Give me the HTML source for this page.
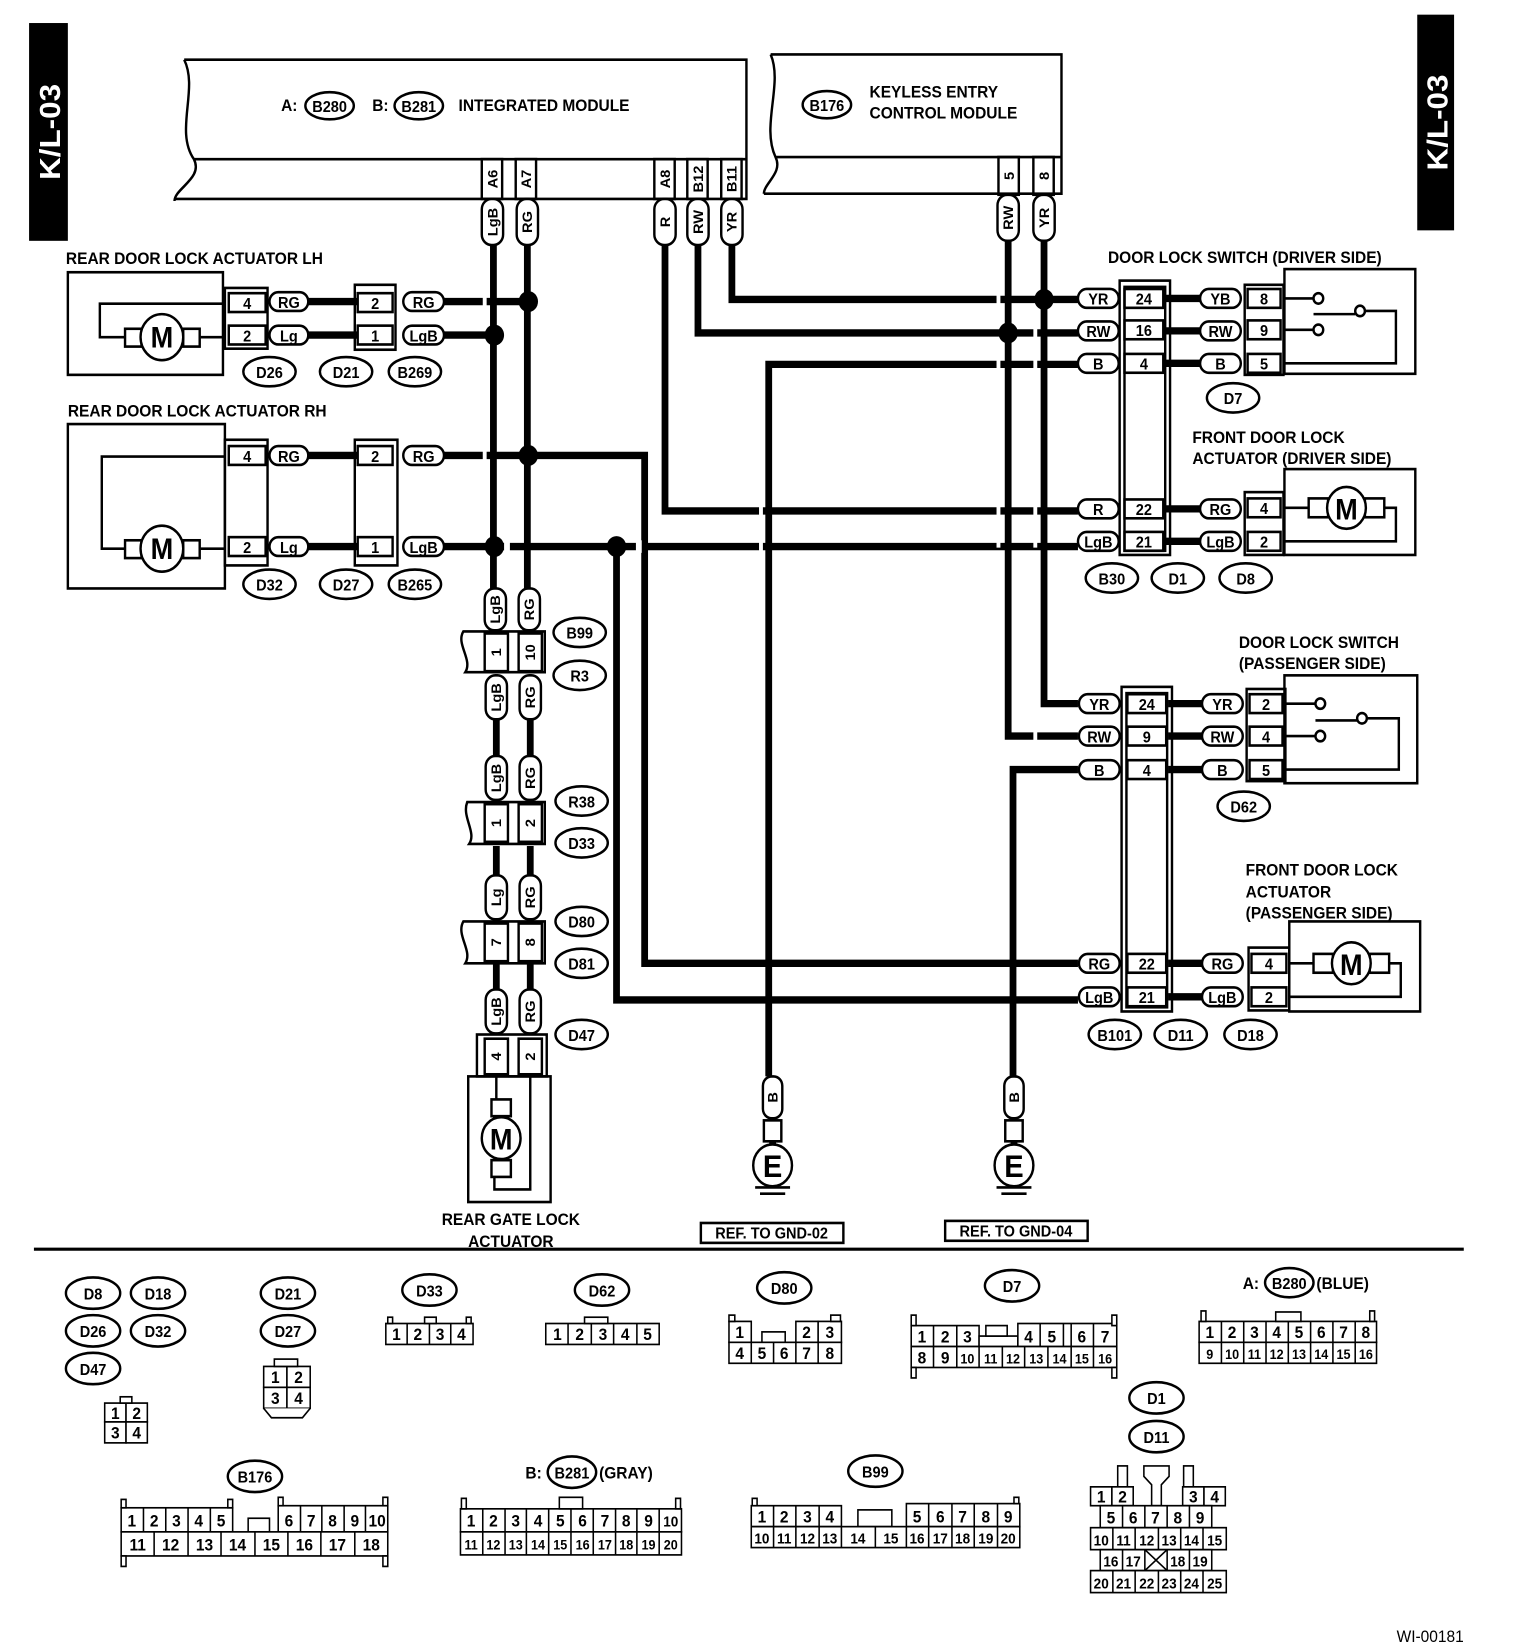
<!DOCTYPE html>
<html><head><meta charset="utf-8"><style>
html,body{margin:0;padding:0;background:#fff}
svg{display:block}
text{font-family:"Liberation Sans",sans-serif;font-weight:bold;fill:#000}
.w{fill:none;stroke:#000;stroke-width:7}
.t{fill:none;stroke:#000;stroke-width:2.5}
.p{fill:#fff;stroke:#000;stroke-width:2.5}
.c{fill:#fff;stroke:#000;stroke-width:1.6}
.n{font-weight:normal;font-size:16px}
.l{font-size:15px}
</style></head><body>
<svg width="1520" height="1646" viewBox="0 0 1568 1572" preserveAspectRatio="none" xmlns="http://www.w3.org/2000/svg">
<!-- tabs -->
<rect x="30" y="22" width="40" height="208" fill="#000"/>
<text transform="translate(62,126) rotate(-90)" text-anchor="middle" font-size="30" style="fill:#fff">K/L-03</text>
<rect x="1462" y="14" width="38" height="206" fill="#000"/>
<text transform="translate(1493,117) rotate(-90)" text-anchor="middle" font-size="30" style="fill:#fff">K/L-03</text>

<!-- Integrated module -->
<path class="t" d="M190,57 H770 V190 H180 M190,57 C205,85 180,125 200,152 H770 M200,152 C210,170 180,180 180,192"/>
<text x="290" y="106" font-size="16">A:</text>
<ellipse class="p" cx="340" cy="101" rx="25" ry="13"/><text x="340" y="107" text-anchor="middle" font-size="15">B280</text>
<text x="384" y="106" font-size="16">B:</text>
<ellipse class="p" cx="432" cy="101" rx="25" ry="13"/><text x="432" y="107" text-anchor="middle" font-size="15">B281</text>
<text x="473" y="106" font-size="16">INTEGRATED MODULE</text>
<g class="t">
<rect x="497" y="152" width="21" height="38"/><rect x="532" y="152" width="21" height="38"/>
<rect x="675" y="152" width="21" height="38"/><rect x="709" y="152" width="21" height="38"/><rect x="744" y="152" width="21" height="38"/>
</g>
<text transform="translate(513,171) rotate(-90)" text-anchor="middle" font-size="14">A6</text>
<text transform="translate(548,171) rotate(-90)" text-anchor="middle" font-size="14">A7</text>
<text transform="translate(691,171) rotate(-90)" text-anchor="middle" font-size="14">A8</text>
<text transform="translate(725,171) rotate(-90)" text-anchor="middle" font-size="14">B12</text>
<text transform="translate(760,171) rotate(-90)" text-anchor="middle" font-size="14">B11</text>

<!-- Keyless -->
<path class="t" d="M795,52 H1095 V185 H788 M795,52 C808,80 785,120 800,150 H1095 M800,150 C808,165 788,175 788,185"/>
<ellipse class="p" cx="853" cy="100" rx="25" ry="13"/><text x="853" y="106" text-anchor="middle" font-size="15">B176</text>
<text x="897" y="93" font-size="16">KEYLESS ENTRY</text>
<text x="897" y="113" font-size="16">CONTROL MODULE</text>
<g class="t"><rect x="1030" y="150" width="21" height="36"/><rect x="1066" y="150" width="21" height="36"/></g>
<text transform="translate(1046,168) rotate(-90)" text-anchor="middle" font-size="14">5</text>
<text transform="translate(1082,168) rotate(-90)" text-anchor="middle" font-size="14">8</text>

<!-- wires -->
<g class="w">
<path d="M509,234 V570"/><path d="M544,234 V570"/>
<path d="M686,234 V488 H1112"/>
<path d="M720,234 V318 H1112"/>
<path d="M755,234 V286 H1112"/>
<path d="M1040,230 V703 H1112"/>
<path d="M1077,230 V672 H1112"/>
<path d="M793,1028 V348 H1112"/>
<path d="M1045,1028 V735 H1112"/>
<path d="M318,288 H368 M318,320 H368"/>
<path d="M458,288 H545 M458,320 H510"/>
<path d="M318,435 H368 M318,522 H368"/>
<path d="M458,435 H665 V920 H1112"/>
<path d="M458,522 H1112"/>
<path d="M636,522 V955 H1112"/>
<path d="M1200,285 H1240 M1200,316 H1240 M1200,347 H1240 M1200,486 H1240 M1200,517 H1240"/>
<path d="M1205,672 H1240 M1205,703 H1240 M1205,735 H1240 M1205,920 H1240 M1205,952 H1240"/>
<path d="M512,687 V722 M547,687 V722 M512,808 V836 M547,808 V836 M512,920 V945 M547,920 V945"/>
</g>
<g fill="#000">
<circle cx="545" cy="288" r="10"/><circle cx="510" cy="320" r="10"/>
<circle cx="545" cy="435" r="10"/><circle cx="510" cy="522" r="10"/><circle cx="636" cy="522" r="10"/>
<circle cx="1077" cy="286" r="10"/><circle cx="1040" cy="318" r="10"/>
</g>
<!-- crossing gaps -->
<g fill="#fff"><rect x="498" y="282" width="4" height="12"/><rect x="520" y="516" width="6" height="12"/><rect x="498" y="429" width="4" height="12"/><rect x="656" y="516" width="6" height="12"/><rect x="1028" y="280" width="4" height="12"/><rect x="1028" y="341" width="4" height="12"/><rect x="1066" y="341" width="4" height="12"/><rect x="1066" y="311" width="4" height="12"/><rect x="1028" y="480" width="4" height="12"/><rect x="1066" y="480" width="4" height="12"/><rect x="1028" y="511" width="4" height="12"/><rect x="1066" y="511" width="4" height="12"/><rect x="1066" y="697" width="4" height="12"/><rect x="783" y="482" width="4" height="12"/><rect x="783" y="515" width="4" height="12"/></g>

<!-- vertical pills top -->
<g class="p">
<rect x="497" y="190" width="22" height="44" rx="10"/><rect x="533" y="190" width="22" height="44" rx="10"/>
<rect x="675" y="190" width="22" height="44" rx="10"/><rect x="709" y="190" width="22" height="44" rx="10"/><rect x="744" y="190" width="22" height="44" rx="10"/>
<rect x="1029" y="186" width="22" height="44" rx="10"/><rect x="1066" y="186" width="22" height="44" rx="10"/>
</g>
<g font-size="14" text-anchor="middle">
<text transform="translate(513,212) rotate(-90)">LgB</text><text transform="translate(549,212) rotate(-90)">RG</text>
<text transform="translate(691,212) rotate(-90)">R</text><text transform="translate(725,212) rotate(-90)">RW</text><text transform="translate(760,212) rotate(-90)">YR</text>
<text transform="translate(1045,208) rotate(-90)">RW</text><text transform="translate(1082,208) rotate(-90)">YR</text>
</g>

<!-- Rear door LH -->
<text x="68" y="252" font-size="16">REAR DOOR LOCK ACTUATOR LH</text>
<rect class="t" x="70" y="260" width="160" height="98"/>
<path class="t" d="M232,290 H103 V322 H129 M207,322 H232"/>
<rect class="p" x="129" y="314" width="17" height="17"/><rect class="p" x="189" y="314" width="17" height="17"/>
<circle class="p" cx="167" cy="322" r="22"/><text x="167" y="332" text-anchor="middle" font-size="28">M</text>
<rect class="t" x="232" y="275" width="44" height="58"/>
<rect class="t" x="236" y="280" width="38" height="18"/><rect class="t" x="236" y="311" width="38" height="18"/>
<text x="255" y="295" text-anchor="middle" font-size="15">4</text><text x="255" y="326" text-anchor="middle" font-size="15">2</text>
<rect class="t" x="366" y="272" width="42" height="62"/>
<rect class="t" x="369" y="280" width="36" height="18"/><rect class="t" x="369" y="311" width="36" height="18"/>
<text x="387" y="295" text-anchor="middle" font-size="15">2</text><text x="387" y="326" text-anchor="middle" font-size="15">1</text>
<g class="p"><rect x="278" y="279" width="40" height="18" rx="9"/><rect x="278" y="311" width="40" height="18" rx="9"/><rect x="416" y="279" width="42" height="18" rx="9"/><rect x="416" y="311" width="42" height="18" rx="9"/></g>
<g font-size="15" text-anchor="middle"><text x="298" y="294">RG</text><text x="298" y="326">Lg</text><text x="437" y="294">RG</text><text x="437" y="326">LgB</text></g>
<g class="p"><ellipse cx="278" cy="355" rx="27" ry="14"/><ellipse cx="357" cy="355" rx="27" ry="14"/><ellipse cx="428" cy="355" rx="27" ry="14"/></g>
<g font-size="15" text-anchor="middle"><text x="278" y="361">D26</text><text x="357" y="361">D21</text><text x="428" y="361">B269</text></g>

<!-- Rear door RH -->
<text x="70" y="398" font-size="16">REAR DOOR LOCK ACTUATOR RH</text>
<rect class="t" x="70" y="405" width="162" height="157"/>
<path class="t" d="M232,436 H105 V524 H129 M207,524 H232"/>
<rect class="p" x="129" y="516" width="17" height="17"/><rect class="p" x="189" y="516" width="17" height="17"/>
<circle class="p" cx="167" cy="524" r="22"/><text x="167" y="534" text-anchor="middle" font-size="28">M</text>
<rect class="t" x="232" y="420" width="44" height="120"/>
<rect class="t" x="236" y="426" width="38" height="18"/><rect class="t" x="236" y="513" width="38" height="18"/>
<text x="255" y="441" text-anchor="middle" font-size="15">4</text><text x="255" y="528" text-anchor="middle" font-size="15">2</text>
<rect class="t" x="366" y="420" width="44" height="120"/>
<rect class="t" x="369" y="426" width="36" height="18"/><rect class="t" x="369" y="513" width="36" height="18"/>
<text x="387" y="441" text-anchor="middle" font-size="15">2</text><text x="387" y="528" text-anchor="middle" font-size="15">1</text>
<g class="p"><rect x="278" y="426" width="40" height="18" rx="9"/><rect x="278" y="513" width="40" height="18" rx="9"/><rect x="416" y="426" width="42" height="18" rx="9"/><rect x="416" y="513" width="42" height="18" rx="9"/></g>
<g font-size="15" text-anchor="middle"><text x="298" y="441">RG</text><text x="298" y="528">Lg</text><text x="437" y="441">RG</text><text x="437" y="528">LgB</text></g>
<g class="p"><ellipse cx="278" cy="558" rx="27" ry="14"/><ellipse cx="357" cy="558" rx="27" ry="14"/><ellipse cx="428" cy="558" rx="27" ry="14"/></g>
<g font-size="15" text-anchor="middle"><text x="278" y="564">D32</text><text x="357" y="564">D27</text><text x="428" y="564">B265</text></g>

<!-- chain -->
<g class="p">
<rect x="500" y="562" width="22" height="40" rx="10"/><rect x="535" y="562" width="22" height="40" rx="10"/>
<rect x="501" y="645" width="22" height="42" rx="10"/><rect x="536" y="645" width="22" height="42" rx="10"/>
<rect x="501" y="722" width="22" height="42" rx="10"/><rect x="536" y="722" width="22" height="42" rx="10"/>
<rect x="501" y="836" width="22" height="42" rx="10"/><rect x="536" y="836" width="22" height="42" rx="10"/>
<rect x="501" y="945" width="22" height="42" rx="10"/><rect x="536" y="945" width="22" height="42" rx="10"/>
</g>
<g font-size="14" text-anchor="middle">
<text transform="translate(516,582) rotate(-90)">LgB</text><text transform="translate(551,582) rotate(-90)">RG</text>
<text transform="translate(517,666) rotate(-90)">LgB</text><text transform="translate(552,666) rotate(-90)">RG</text>
<text transform="translate(517,743) rotate(-90)">LgB</text><text transform="translate(552,743) rotate(-90)">RG</text>
<text transform="translate(517,857) rotate(-90)">Lg</text><text transform="translate(552,857) rotate(-90)">RG</text>
<text transform="translate(517,966) rotate(-90)">LgB</text><text transform="translate(552,966) rotate(-90)">RG</text>
</g>
<path class="t" d="M562,603 H478 C470,615 488,630 480,642 H562 Z"/>
<rect class="t" x="500" y="605" width="24" height="36"/><rect class="t" x="535" y="605" width="24" height="36"/>
<path class="t" d="M562,766 H482 C476,780 492,795 484,806 H562 Z"/>
<rect class="t" x="500" y="768" width="24" height="36"/><rect class="t" x="535" y="768" width="24" height="36"/>
<path class="t" d="M562,880 H478 C470,893 488,908 480,920 H562 Z"/>
<rect class="t" x="500" y="882" width="24" height="36"/><rect class="t" x="535" y="882" width="24" height="36"/>
<rect class="t" x="492" y="988" width="72" height="40"/>
<rect class="t" x="500" y="992" width="24" height="34"/><rect class="t" x="535" y="992" width="24" height="34"/>
<g font-size="14" text-anchor="middle">
<text transform="translate(517,623) rotate(-90)">1</text><text transform="translate(552,623) rotate(-90)">10</text>
<text transform="translate(517,786) rotate(-90)">1</text><text transform="translate(552,786) rotate(-90)">2</text>
<text transform="translate(517,900) rotate(-90)">7</text><text transform="translate(552,900) rotate(-90)">8</text>
<text transform="translate(517,1009) rotate(-90)">4</text><text transform="translate(552,1009) rotate(-90)">2</text>
</g>
<g class="p"><ellipse cx="598" cy="604" rx="27" ry="14"/><ellipse cx="598" cy="645" rx="27" ry="14"/><ellipse cx="600" cy="765" rx="27" ry="14"/><ellipse cx="600" cy="805" rx="27" ry="14"/><ellipse cx="600" cy="880" rx="27" ry="14"/><ellipse cx="600" cy="920" rx="27" ry="14"/><ellipse cx="600" cy="988" rx="27" ry="14"/></g>
<g font-size="15" text-anchor="middle"><text x="598" y="610">B99</text><text x="598" y="651">R3</text><text x="600" y="771">R38</text><text x="600" y="811">D33</text><text x="600" y="886">D80</text><text x="600" y="926">D81</text><text x="600" y="994">D47</text></g>
<rect class="t" x="483" y="1028" width="85" height="120"/>
<path class="t" d="M512,1026 V1052 M547,1026 V1136 H510 V1122 M510,1052 V1068"/>
<rect class="p" x="507" y="1050" width="20" height="16"/><rect class="p" x="507" y="1108" width="20" height="16"/>
<circle class="p" cx="517" cy="1087" r="20"/><text x="517" y="1098" text-anchor="middle" font-size="28">M</text>
<text x="527" y="1170" text-anchor="middle" font-size="16">REAR GATE LOCK</text>
<text x="527" y="1191" text-anchor="middle" font-size="16">ACTUATOR</text>

<!-- grounds -->
<g>
<rect class="p" x="787" y="1028" width="20" height="40" rx="9"/>
<text transform="translate(802,1048) rotate(-90)" text-anchor="middle" font-size="14">B</text>
<rect class="p" x="788" y="1070" width="18" height="20"/><path class="w" d="M797,1090 V1094"/>
<circle class="p" cx="797" cy="1113" r="20"/><text x="797" y="1124" text-anchor="middle" font-size="30">E</text>
<path class="t" d="M779,1134 H815 M784,1140 H810"/>
<rect class="t" x="723" y="1168" width="147" height="19"/><text x="796" y="1183" text-anchor="middle" font-size="15">REF. TO GND-02</text>

<rect class="p" x="1036" y="1028" width="20" height="40" rx="9"/>
<text transform="translate(1051,1048) rotate(-90)" text-anchor="middle" font-size="14">B</text>
<rect class="p" x="1037" y="1070" width="18" height="20"/><path class="w" d="M1046,1090 V1094"/>
<circle class="p" cx="1046" cy="1113" r="20"/><text x="1046" y="1124" text-anchor="middle" font-size="30">E</text>
<path class="t" d="M1028,1134 H1064 M1033,1140 H1059"/>
<rect class="t" x="975" y="1166" width="147" height="19"/><text x="1048" y="1181" text-anchor="middle" font-size="15">REF. TO GND-04</text>
</g>

<!-- driver side right -->
<text x="1143" y="251" font-size="16">DOOR LOCK SWITCH (DRIVER SIDE)</text>
<rect class="t" x="1155" y="268" width="52" height="262"/><rect class="t" x="1160" y="274" width="42" height="252"/>
<g class="t"><rect x="1160" y="276" width="40" height="18"/><rect x="1160" y="306" width="40" height="18"/><rect x="1160" y="338" width="40" height="18"/><rect x="1160" y="477" width="40" height="18"/><rect x="1160" y="508" width="40" height="18"/></g>
<g font-size="15" text-anchor="middle"><text x="1180" y="291">24</text><text x="1180" y="321">16</text><text x="1180" y="353">4</text><text x="1180" y="492">22</text><text x="1180" y="523">21</text></g>
<g class="p"><rect x="1112" y="276" width="42" height="18" rx="9"/><rect x="1112" y="307" width="42" height="18" rx="9"/><rect x="1112" y="338" width="42" height="18" rx="9"/><rect x="1112" y="477" width="42" height="18" rx="9"/><rect x="1112" y="508" width="42" height="18" rx="9"/>
<rect x="1238" y="276" width="42" height="18" rx="9"/><rect x="1238" y="307" width="42" height="18" rx="9"/><rect x="1238" y="338" width="42" height="18" rx="9"/><rect x="1238" y="477" width="42" height="18" rx="9"/><rect x="1238" y="508" width="42" height="18" rx="9"/></g>
<g font-size="15" text-anchor="middle"><text x="1133" y="291">YR</text><text x="1133" y="322">RW</text><text x="1133" y="353">B</text><text x="1133" y="492">R</text><text x="1133" y="523">LgB</text>
<text x="1259" y="291">YB</text><text x="1259" y="322">RW</text><text x="1259" y="353">B</text><text x="1259" y="492">RG</text><text x="1259" y="523">LgB</text></g>
<rect class="t" x="1325" y="257" width="135" height="100"/>
<rect class="t" x="1284" y="272" width="40" height="86"/>
<g class="t"><rect x="1287" y="276" width="34" height="18"/><rect x="1287" y="306" width="34" height="18"/><rect x="1287" y="338" width="34" height="18"/></g>
<g font-size="15" text-anchor="middle"><text x="1304" y="291">8</text><text x="1304" y="321">9</text><text x="1304" y="353">5</text></g>
<path class="t" d="M1325,285 H1355 M1325,315 H1355 M1355,300 H1398 M1408,297 H1440 V347 H1325"/>
<g class="p"><circle cx="1360" cy="285" r="5"/><circle cx="1360" cy="315" r="5"/><circle cx="1403" cy="297" r="5"/></g>
<ellipse class="p" cx="1272" cy="380" rx="27" ry="14"/><text x="1272" y="386" text-anchor="middle" font-size="15">D7</text>
<text x="1230" y="423" font-size="16">FRONT DOOR LOCK</text>
<text x="1230" y="443" font-size="16">ACTUATOR (DRIVER SIDE)</text>
<rect class="t" x="1325" y="448" width="135" height="82"/>
<rect class="t" x="1284" y="470" width="40" height="60"/>
<g class="t"><rect x="1287" y="476" width="34" height="18"/><rect x="1287" y="508" width="34" height="18"/></g>
<g font-size="15" text-anchor="middle"><text x="1304" y="491">4</text><text x="1304" y="523">2</text></g>
<path class="t" d="M1325,485 H1350 M1428,485 H1440 V517 H1325"/>
<rect class="p" x="1350" y="476" width="20" height="18"/><rect class="p" x="1408" y="476" width="20" height="18"/>
<circle class="p" cx="1389" cy="485" r="20"/><text x="1389" y="496" text-anchor="middle" font-size="28">M</text>
<g class="p"><ellipse cx="1147" cy="552" rx="27" ry="14"/><ellipse cx="1215" cy="552" rx="27" ry="14"/><ellipse cx="1285" cy="552" rx="27" ry="14"/></g>
<g font-size="15" text-anchor="middle"><text x="1147" y="558">B30</text><text x="1215" y="558">D1</text><text x="1285" y="558">D8</text></g>

<!-- passenger side right -->
<text x="1278" y="619" font-size="16">DOOR LOCK SWITCH</text>
<text x="1278" y="639" font-size="16">(PASSENGER SIDE)</text>
<rect class="t" x="1157" y="656" width="52" height="310"/><rect class="t" x="1162" y="662" width="42" height="300"/>
<g class="t"><rect x="1163" y="663" width="40" height="18"/><rect x="1163" y="694" width="40" height="18"/><rect x="1163" y="726" width="40" height="18"/><rect x="1163" y="911" width="40" height="18"/><rect x="1163" y="943" width="40" height="18"/></g>
<g font-size="15" text-anchor="middle"><text x="1183" y="678">24</text><text x="1183" y="709">9</text><text x="1183" y="741">4</text><text x="1183" y="926">22</text><text x="1183" y="958">21</text></g>
<g class="p"><rect x="1113" y="663" width="42" height="18" rx="9"/><rect x="1113" y="694" width="42" height="18" rx="9"/><rect x="1113" y="726" width="42" height="18" rx="9"/><rect x="1113" y="911" width="42" height="18" rx="9"/><rect x="1113" y="943" width="42" height="18" rx="9"/>
<rect x="1240" y="663" width="42" height="18" rx="9"/><rect x="1240" y="694" width="42" height="18" rx="9"/><rect x="1240" y="726" width="42" height="18" rx="9"/><rect x="1240" y="911" width="42" height="18" rx="9"/><rect x="1240" y="943" width="42" height="18" rx="9"/></g>
<g font-size="15" text-anchor="middle"><text x="1134" y="678">YR</text><text x="1134" y="709">RW</text><text x="1134" y="741">B</text><text x="1134" y="926">RG</text><text x="1134" y="958">LgB</text>
<text x="1261" y="678">YR</text><text x="1261" y="709">RW</text><text x="1261" y="741">B</text><text x="1261" y="926">RG</text><text x="1261" y="958">LgB</text></g>
<rect class="t" x="1325" y="645" width="137" height="103"/>
<rect class="t" x="1286" y="658" width="40" height="88"/>
<g class="t"><rect x="1289" y="663" width="34" height="18"/><rect x="1289" y="694" width="34" height="18"/><rect x="1289" y="726" width="34" height="18"/></g>
<g font-size="15" text-anchor="middle"><text x="1306" y="678">2</text><text x="1306" y="709">4</text><text x="1306" y="741">5</text></g>
<path class="t" d="M1325,672 H1357 M1325,703 H1357 M1357,688 H1400 M1410,686 H1443 V735 H1325"/>
<g class="p"><circle cx="1362" cy="672" r="5"/><circle cx="1362" cy="703" r="5"/><circle cx="1405" cy="686" r="5"/></g>
<ellipse class="p" cx="1283" cy="770" rx="27" ry="14"/><text x="1283" y="776" text-anchor="middle" font-size="15">D62</text>
<text x="1285" y="836" font-size="16">FRONT DOOR LOCK</text>
<text x="1285" y="857" font-size="16">ACTUATOR</text>
<text x="1285" y="877" font-size="16">(PASSENGER SIDE)</text>
<rect class="t" x="1330" y="880" width="135" height="86"/>
<rect class="t" x="1288" y="905" width="42" height="60"/>
<g class="t"><rect x="1291" y="911" width="36" height="18"/><rect x="1291" y="943" width="36" height="18"/></g>
<g font-size="15" text-anchor="middle"><text x="1309" y="926">4</text><text x="1309" y="958">2</text></g>
<path class="t" d="M1330,920 H1355 M1433,920 H1445 V952 H1330"/>
<rect class="p" x="1355" y="911" width="20" height="18"/><rect class="p" x="1413" y="911" width="20" height="18"/>
<circle class="p" cx="1394" cy="920" r="20"/><text x="1394" y="931" text-anchor="middle" font-size="28">M</text>
<g class="p"><ellipse cx="1150" cy="988" rx="27" ry="14"/><ellipse cx="1218" cy="988" rx="27" ry="14"/><ellipse cx="1290" cy="988" rx="27" ry="14"/></g>
<g font-size="15" text-anchor="middle"><text x="1150" y="994">B101</text><text x="1218" y="994">D11</text><text x="1290" y="994">D18</text></g>

<!-- separator -->
<path d="M35,1193 H1510" stroke="#000" stroke-width="3"/>

<!-- bottom bubbles -->
<g class="p">
<ellipse cx="96" cy="1235" rx="28" ry="15"/><ellipse cx="163" cy="1235" rx="28" ry="15"/>
<ellipse cx="96" cy="1271" rx="28" ry="15"/><ellipse cx="163" cy="1271" rx="28" ry="15"/>
<ellipse cx="96" cy="1307" rx="28" ry="15"/>
<ellipse cx="297" cy="1235" rx="28" ry="15"/><ellipse cx="297" cy="1271" rx="28" ry="15"/>
<ellipse cx="443" cy="1232" rx="28" ry="15"/><ellipse cx="621" cy="1232" rx="28" ry="15"/>
<ellipse cx="809" cy="1230" rx="28" ry="15"/><ellipse cx="1044" cy="1228" rx="28" ry="15"/>
<ellipse cx="1330" cy="1225" rx="25" ry="14"/>
<ellipse cx="1193" cy="1335" rx="28" ry="15"/><ellipse cx="1193" cy="1372" rx="28" ry="15"/>
<ellipse cx="263" cy="1410" rx="28" ry="15"/><ellipse cx="590" cy="1406" rx="25" ry="15"/>
<ellipse cx="903" cy="1405" rx="28" ry="15"/>
</g>
<g font-size="15" text-anchor="middle">
<text x="96" y="1241">D8</text><text x="163" y="1241">D18</text><text x="96" y="1277">D26</text><text x="163" y="1277">D32</text><text x="96" y="1313">D47</text>
<text x="297" y="1241">D21</text><text x="297" y="1277">D27</text>
<text x="443" y="1238">D33</text><text x="621" y="1238">D62</text><text x="809" y="1236">D80</text><text x="1044" y="1234">D7</text>
<text x="1330" y="1231">B280</text><text x="1193" y="1341">D1</text><text x="1193" y="1378">D11</text>
<text x="263" y="1416">B176</text><text x="590" y="1412">B281</text><text x="903" y="1411">B99</text>
</g>
<text x="1282" y="1231" font-size="16">A:</text><text x="1358" y="1231" font-size="16">(BLUE)</text>
<text x="542" y="1412" font-size="16">B:</text><text x="618" y="1412" font-size="16">(GRAY)</text>

<!-- small 2x2 connectors -->
<g class="c">
<rect x="108" y="1340" width="22" height="18"/><rect x="130" y="1340" width="22" height="18"/><rect x="108" y="1358" width="22" height="20"/><rect x="130" y="1358" width="22" height="20"/><rect x="124" y="1334" width="12" height="6"/>
<rect x="272" y="1305" width="24" height="20"/><rect x="296" y="1305" width="24" height="20"/><rect x="272" y="1325" width="24" height="20"/><rect x="296" y="1325" width="24" height="20"/><rect x="283" y="1298" width="24" height="7"/>
<path d="M272,1345 L280,1354 H312 L320,1345"/>
</g>
<g class="n" text-anchor="middle"><text x="119" y="1355">1</text><text x="141" y="1355">2</text><text x="119" y="1374">3</text><text x="141" y="1374">4</text>
<text x="284" y="1321">1</text><text x="308" y="1321">2</text><text x="284" y="1341">3</text><text x="308" y="1341">4</text></g>

<!-- D33 -->
<g class="c"><rect x="398" y="1264" width="90" height="20"/><path d="M420,1264 V1284 M443,1264 V1284 M465,1264 V1284"/><rect x="400" y="1258" width="5" height="6"/><rect x="438" y="1258" width="12" height="6"/><rect x="481" y="1258" width="5" height="6"/></g>
<g class="n" text-anchor="middle"><text x="409" y="1280">1</text><text x="431" y="1280">2</text><text x="454" y="1280">3</text><text x="476" y="1280">4</text></g>
<!-- D62 -->
<g class="c"><rect x="563" y="1264" width="117" height="20"/><path d="M586,1264 V1284 M610,1264 V1284 M633,1264 V1284 M657,1264 V1284"/><rect x="603" y="1258" width="24" height="6"/></g>
<g class="n" text-anchor="middle"><text x="575" y="1280">1</text><text x="598" y="1280">2</text><text x="622" y="1280">3</text><text x="645" y="1280">4</text><text x="668" y="1280">5</text></g>
<!-- D80 -->
<g class="c"><rect x="752" y="1262" width="23" height="20"/><rect x="821" y="1262" width="23" height="20"/><rect x="844" y="1262" width="24" height="20"/><rect x="786" y="1272" width="24" height="10"/>
<rect x="752" y="1282" width="116" height="20"/><path d="M775,1282 V1302 M798,1282 V1302 M821,1282 V1302 M844,1282 V1302"/><rect x="752" y="1256" width="6" height="6"/><rect x="857" y="1256" width="10" height="6"/></g>
<g class="n" text-anchor="middle"><text x="763" y="1278">1</text><text x="832" y="1278">2</text><text x="856" y="1278">3</text><text x="763" y="1298">4</text><text x="786" y="1298">5</text><text x="809" y="1298">6</text><text x="832" y="1298">7</text><text x="856" y="1298">8</text></g>
<!-- D7 -->
<g class="c"><rect x="940" y="1266" width="70" height="20"/><path d="M963,1266 V1286 M987,1266 V1286"/><rect x="1010" y="1276" width="40" height="10"/><rect x="1017" y="1266" width="22" height="10"/>
<rect x="1050" y="1264" width="102" height="22"/><path d="M1073,1264 V1286 M1097,1264 V1286 M1105,1264 V1286 M1128,1264 V1286"/>
<rect x="940" y="1286" width="212" height="20"/><path d="M963,1286 V1306 M987,1286 V1306 M1010,1286 V1306 M1034,1286 V1306 M1057,1286 V1306 M1081,1286 V1306 M1105,1286 V1306 M1128,1286 V1306"/>
<rect x="940" y="1256" width="5" height="10"/><rect x="1147" y="1256" width="5" height="10"/><rect x="940" y="1306" width="5" height="10"/><rect x="1147" y="1306" width="5" height="10"/></g>
<g class="n" text-anchor="middle"><text x="951" y="1282">1</text><text x="975" y="1282">2</text><text x="998" y="1282">3</text><text x="1061" y="1282">4</text><text x="1085" y="1282">5</text><text x="1116" y="1282">6</text><text x="1140" y="1282">7</text>
<text x="951" y="1302">8</text><text x="975" y="1302">9</text><text x="998" y="1302" font-size="13">10</text><text x="1022" y="1302" font-size="13">11</text><text x="1045" y="1302" font-size="13">12</text><text x="1069" y="1302" font-size="13">13</text><text x="1093" y="1302" font-size="13">14</text><text x="1116" y="1302" font-size="13">15</text><text x="1140" y="1302" font-size="13">16</text></g>
<!-- B280 -->
<g class="c"><rect x="1237" y="1262" width="183" height="20"/><rect x="1237" y="1282" width="183" height="20"/><path d="M1260,1262 V1302 M1283,1262 V1302 M1306,1262 V1302 M1329,1262 V1302 M1352,1262 V1302 M1375,1262 V1302 M1398,1262 V1302"/><rect x="1316" y="1253" width="26" height="9"/><rect x="1239" y="1252" width="5" height="10"/><rect x="1413" y="1252" width="5" height="10"/></g>
<g class="n" text-anchor="middle"><text x="1248" y="1278">1</text><text x="1271" y="1278">2</text><text x="1294" y="1278">3</text><text x="1317" y="1278">4</text><text x="1340" y="1278">5</text><text x="1363" y="1278">6</text><text x="1386" y="1278">7</text><text x="1409" y="1278">8</text>
<g font-size="13"><text x="1248" y="1298">9</text><text x="1271" y="1298">10</text><text x="1294" y="1298">11</text><text x="1317" y="1298">12</text><text x="1340" y="1298">13</text><text x="1363" y="1298">14</text><text x="1386" y="1298">15</text><text x="1409" y="1298">16</text></g></g>
<!-- B176 -->
<g class="c"><rect x="125" y="1440" width="115" height="23"/><path d="M148,1440 V1463 M171,1440 V1463 M194,1440 V1463 M217,1440 V1463"/><rect x="256" y="1450" width="22" height="13"/>
<rect x="287" y="1438" width="113" height="25"/><path d="M310,1438 V1463 M332,1438 V1463 M355,1438 V1463 M377,1438 V1463"/>
<rect x="125" y="1463" width="275" height="23"/><path d="M159,1463 V1486 M194,1463 V1486 M228,1463 V1486 M263,1463 V1486 M297,1463 V1486 M331,1463 V1486 M366,1463 V1486"/>
<rect x="125" y="1432" width="5" height="8"/><rect x="235" y="1432" width="5" height="8"/><rect x="287" y="1430" width="5" height="8"/><rect x="395" y="1430" width="5" height="8"/><rect x="125" y="1486" width="5" height="10"/><rect x="395" y="1486" width="5" height="10"/></g>
<g class="n" text-anchor="middle"><text x="136" y="1458">1</text><text x="159" y="1458">2</text><text x="182" y="1458">3</text><text x="205" y="1458">4</text><text x="228" y="1458">5</text><text x="298" y="1458">6</text><text x="321" y="1458">7</text><text x="343" y="1458">8</text><text x="366" y="1458">9</text><text x="389" y="1458">10</text>
<text x="142" y="1481">11</text><text x="176" y="1481">12</text><text x="211" y="1481">13</text><text x="245" y="1481">14</text><text x="280" y="1481">15</text><text x="314" y="1481">16</text><text x="348" y="1481">17</text><text x="383" y="1481">18</text></g>
<!-- B281 -->
<g class="c"><rect x="475" y="1441" width="228" height="22"/><rect x="475" y="1463" width="228" height="22"/><path d="M498,1441 V1485 M521,1441 V1485 M543,1441 V1485 M566,1441 V1485 M589,1441 V1485 M612,1441 V1485 M635,1441 V1485 M657,1441 V1485 M680,1441 V1485"/><rect x="577" y="1430" width="24" height="11"/><rect x="476" y="1431" width="5" height="10"/><rect x="697" y="1431" width="5" height="10"/></g>
<g class="n" text-anchor="middle"><text x="486" y="1458">1</text><text x="509" y="1458">2</text><text x="532" y="1458">3</text><text x="555" y="1458">4</text><text x="578" y="1458">5</text><text x="601" y="1458">6</text><text x="624" y="1458">7</text><text x="646" y="1458">8</text><text x="669" y="1458">9</text><text x="692" y="1458" font-size="14">10</text>
<g font-size="13"><text x="486" y="1480">11</text><text x="509" y="1480">12</text><text x="532" y="1480">13</text><text x="555" y="1480">14</text><text x="578" y="1480">15</text><text x="601" y="1480">16</text><text x="624" y="1480">17</text><text x="646" y="1480">18</text><text x="669" y="1480">19</text><text x="692" y="1480">20</text></g></g>
<!-- B99 -->
<g class="c"><rect x="775" y="1438" width="93" height="20"/><path d="M798,1438 V1458 M821,1438 V1458 M845,1438 V1458"/>
<rect x="885" y="1442" width="35" height="16"/>
<rect x="935" y="1436" width="117" height="22"/><path d="M958,1436 V1458 M982,1436 V1458 M1005,1436 V1458 M1029,1436 V1458"/>
<rect x="775" y="1458" width="277" height="20"/><path d="M798,1458 V1478 M821,1458 V1478 M845,1458 V1478 M868,1458 V1478 M903,1458 V1478 M935,1458 V1478 M958,1458 V1478 M982,1458 V1478 M1005,1458 V1478 M1029,1458 V1478"/><rect x="776" y="1431" width="5" height="7"/><rect x="1046" y="1430" width="5" height="6"/></g>
<g class="n" text-anchor="middle"><text x="786" y="1454">1</text><text x="809" y="1454">2</text><text x="833" y="1454">3</text><text x="856" y="1454">4</text><text x="946" y="1454">5</text><text x="970" y="1454">6</text><text x="993" y="1454">7</text><text x="1017" y="1454">8</text><text x="1040" y="1454">9</text>
<g font-size="14"><text x="786" y="1474">10</text><text x="809" y="1474">11</text><text x="833" y="1474">12</text><text x="856" y="1474">13</text><text x="885" y="1474">14</text><text x="919" y="1474">15</text><text x="946" y="1474">16</text><text x="970" y="1474">17</text><text x="993" y="1474">18</text><text x="1017" y="1474">19</text><text x="1040" y="1474">20</text></g></g>
<!-- D1 -->
<g class="c">
<rect x="1153" y="1400" width="10" height="20"/><rect x="1221" y="1400" width="10" height="20"/>
<path d="M1180,1400 H1206 V1410 L1198,1418 V1438 H1188 V1418 L1180,1410 Z"/>
<rect x="1125" y="1420" width="22" height="18"/><rect x="1147" y="1420" width="22" height="18"/><rect x="1220" y="1420" width="22" height="18"/><rect x="1242" y="1420" width="22" height="18"/>
<rect x="1135" y="1438" width="115" height="21"/><path d="M1158,1438 V1459 M1181,1438 V1459 M1204,1438 V1459 M1227,1438 V1459"/>
<rect x="1125" y="1459" width="140" height="21"/><path d="M1148,1459 V1480 M1171,1459 V1480 M1195,1459 V1480 M1218,1459 V1480 M1241,1459 V1480"/>
<rect x="1135" y="1480" width="115" height="20"/><path d="M1158,1480 V1500 M1181,1480 V1500 M1204,1480 V1500 M1227,1480 V1500 M1181,1480 L1204,1500 M1204,1480 L1181,1500"/>
<rect x="1125" y="1500" width="140" height="21"/><path d="M1148,1500 V1521 M1171,1500 V1521 M1195,1500 V1521 M1218,1500 V1521 M1241,1500 V1521"/>
</g>
<g class="n" text-anchor="middle"><text x="1136" y="1435">1</text><text x="1158" y="1435">2</text><text x="1231" y="1435">3</text><text x="1253" y="1435">4</text>
<text x="1146" y="1455">5</text><text x="1169" y="1455">6</text><text x="1192" y="1455">7</text><text x="1215" y="1455">8</text><text x="1238" y="1455">9</text>
<g font-size="14"><text x="1136" y="1476">10</text><text x="1159" y="1476">11</text><text x="1183" y="1476">12</text><text x="1206" y="1476">13</text><text x="1229" y="1476">14</text><text x="1253" y="1476">15</text>
<text x="1146" y="1496">16</text><text x="1169" y="1496">17</text><text x="1215" y="1496">18</text><text x="1238" y="1496">19</text>
<text x="1136" y="1517">20</text><text x="1159" y="1517">21</text><text x="1183" y="1517">22</text><text x="1206" y="1517">23</text><text x="1229" y="1517">24</text><text x="1253" y="1517">25</text></g></g>

<text x="1510" y="1568" text-anchor="end" class="n" font-size="17">WI-00181</text>
</svg>
</body></html>
